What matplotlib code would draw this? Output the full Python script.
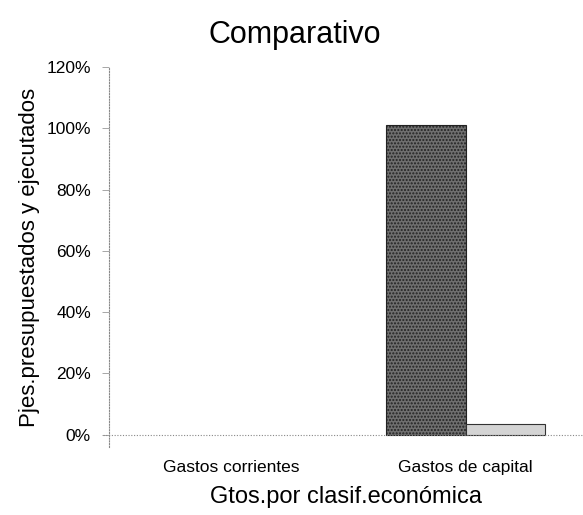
import matplotlib
matplotlib.use('Agg')
import matplotlib.pyplot as plt
import numpy as np
from matplotlib.ticker import PercentFormatter

plt.rcParams['font.family'] = ['Liberation Sans', 'DejaVu Sans']

# Data
categories = ['Gastos corrientes', 'Gastos de capital']
presupuestado = [0.0, 1.01]
ejecutado = [0.0, 0.035]
yticks = [0, 0.2, 0.4, 0.6, 0.8, 1.0, 1.2]

fig = plt.figure(figsize=(5.83, 5.15), dpi=100)
ax = fig.add_axes([0.187, 0.132, 0.813, 0.738])

x = np.arange(len(categories))
width = 0.34

# no outline on empty bars (zero values are not visible in the reference)
lw1 = [0.8 if v > 0 else 0 for v in presupuestado]
lw2 = [0.8 if v > 0 else 0 for v in ejecutado]

ax.bar(x - width / 2, presupuestado, width, color='#6f6f6f', edgecolor='#222222',
       linewidth=lw1, hatch='.....')
ax.bar(x + width / 2, ejecutado, width, color='#d4d4d4', edgecolor='#333333',
       linewidth=lw2)

# Dotted zero line running across the plot
ax.axhline(0, color='#888888', linestyle=(0, (1, 1.5)), linewidth=0.8,
           xmin=-0.012, clip_on=False)

ax.set_xlim(-0.52, 1.5)
ax.set_ylim(-0.04, 1.2)
ax.set_yticks(yticks)
ax.yaxis.set_major_formatter(PercentFormatter(1.0, decimals=0))
ax.set_xticks(x)
ax.set_xticklabels(categories, fontsize=12.5)

for side in ['top', 'right', 'bottom']:
    ax.spines[side].set_visible(False)
ax.spines['left'].set_linestyle((0, (1, 1.5)))
ax.spines['left'].set_color('#888888')
ax.spines['left'].set_linewidth(0.8)

ax.tick_params(axis='y', length=5, width=0.6, color='#999999', labelsize=12.5, pad=8)
ax.tick_params(axis='x', length=0, pad=9)

ax.set_ylabel('Pjes.presupuestados y ejecutados', fontsize=16, labelpad=5)
ax.set_xlabel('Gtos.por clasif.económica', fontsize=17, labelpad=8)
fig.suptitle('Comparativo', fontsize=22, x=0.505, y=0.962)

plt.savefig('out.png', dpi=100)
plt.close(fig)
